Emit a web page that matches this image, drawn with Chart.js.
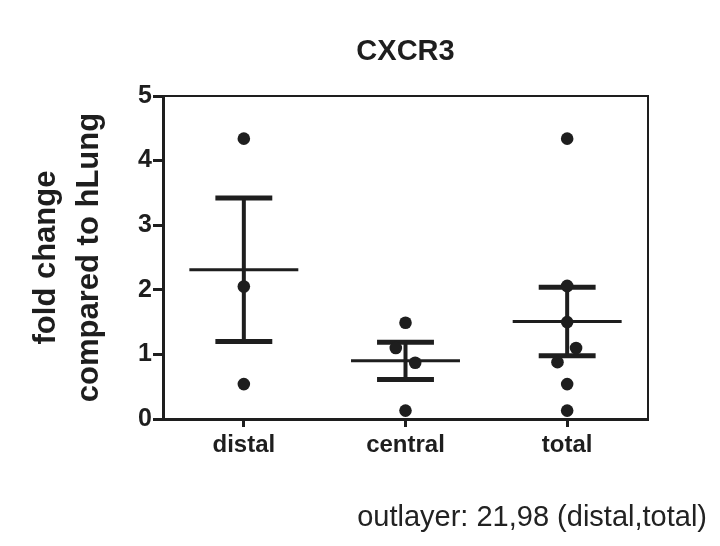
<!DOCTYPE html>
<html>
<head>
<meta charset="utf-8">
<script src="https://cdn.jsdelivr.net/npm/chart.js@4"></script>
<style>
  html, body { margin: 0; padding: 0; background: #fff; }
  #wrap { width: 720px; height: 546px; }
</style>
</head>
<body>
<div id="wrap"><canvas id="myChart" width="720" height="546"></canvas></div>
<script>
// categories and values
const categories = ['distal', 'central', 'total'];
const distalValues = [4.34, 2.05, 0.54];
const centralValues = [1.49, 1.10, 0.87, 0.13];
const totalValues = [4.34, 2.06, 1.50, 1.10, 0.88, 0.54, 0.13];
// small horizontal scatter of overlapping points (category units)
const distalJitter = [0, 0, 0];
const centralJitter = [0, -0.06, 0.06, 0];
const totalJitter = [0, 0, 0, 0.055, -0.06, 0, 0];
// mean and SEM bars
const means = [2.31, 0.90, 1.51];
const semUpper = [3.42, 1.19, 2.04];
const semLower = [1.20, 0.61, 0.98];
const yTicks = [0, 1, 2, 3, 4, 5];

const titleText = 'CXCR3';
const yTitle = ['fold change', 'compared to hLung'];
const footText = 'outlayer: 21,98 (distal,total)';

const ink = '#1e1e1e';
const fontFam = "'Liberation Sans', Arial, Helvetica, sans-serif";

function toPoints(vals, jit, idx) {
  return vals.map((v, i) => ({ x: idx + jit[i], y: v }));
}

// mean line + SEM whiskers, drawn through the chart scales
const errorBars = {
  id: 'errorBars',
  beforeDatasetsDraw(chart) {
    const { ctx, scales: { x, y } } = chart;
    ctx.save();
    ctx.strokeStyle = ink;
    ctx.lineCap = 'butt';
    categories.forEach((c, i) => {
      const cx = x.getPixelForValue(i);
      // vertical
      ctx.lineWidth = 4;
      ctx.beginPath();
      ctx.moveTo(cx, y.getPixelForValue(semUpper[i]));
      ctx.lineTo(cx, y.getPixelForValue(semLower[i]));
      ctx.stroke();
      // caps
      ctx.lineWidth = 5;
      [semUpper[i], semLower[i]].forEach(v => {
        ctx.beginPath();
        ctx.moveTo(x.getPixelForValue(i - 0.176), y.getPixelForValue(v));
        ctx.lineTo(x.getPixelForValue(i + 0.176), y.getPixelForValue(v));
        ctx.stroke();
      });
      // mean
      ctx.lineWidth = 3;
      ctx.beginPath();
      ctx.moveTo(x.getPixelForValue(i - 0.337), y.getPixelForValue(means[i]));
      ctx.lineTo(x.getPixelForValue(i + 0.337), y.getPixelForValue(means[i]));
      ctx.stroke();
    });
    ctx.restore();
  }
};

// box top/right edge, title and footnote
const frame = {
  id: 'frame',
  afterDraw(chart) {
    const { ctx, chartArea: a } = chart;
    ctx.save();
    ctx.strokeStyle = ink;
    ctx.lineWidth = 2;
    ctx.beginPath();
    ctx.moveTo(a.left, a.top);
    ctx.lineTo(a.right, a.top);
    ctx.lineTo(a.right, a.bottom);
    ctx.stroke();

    ctx.fillStyle = ink;
    ctx.textAlign = 'center';
    ctx.textBaseline = 'alphabetic';
    ctx.font = 'bold 29px ' + fontFam;
    ctx.fillText(titleText, (a.left + a.right) / 2, 60);

    ctx.textAlign = 'right';
    ctx.font = '29px ' + fontFam;
    ctx.fillStyle = '#222';
    ctx.fillText(footText, 707, 526);
    ctx.restore();
  }
};

const ctx = document.getElementById('myChart').getContext('2d');
new Chart(ctx, {
  type: 'scatter',
  data: {
    datasets: [
      { label: categories[0], data: toPoints(distalValues, distalJitter, 0) },
      { label: categories[1], data: toPoints(centralValues, centralJitter, 1) },
      { label: categories[2], data: toPoints(totalValues, totalJitter, 2) }
    ].map(d => Object.assign(d, {
      pointRadius: 6.3,
      pointHoverRadius: 6.3,
      pointBackgroundColor: ink,
      pointBorderColor: ink,
      pointBorderWidth: 0
    }))
  },
  options: {
    responsive: false,
    animation: false,
    layout: { padding: { top: 96, right: 72, left: 0, bottom: 0 } },
    plugins: {
      legend: { display: false },
      tooltip: { enabled: false },
      title: { display: false }
    },
    scales: {
      x: {
        type: 'linear',
        min: -0.5,
        max: 2.5,
        afterBuildTicks: s => { s.ticks = categories.map((c, i) => ({ value: i })); },
        afterFit: s => { s.height = 127; },
        ticks: {
          callback: v => categories[v],
          color: ink,
          padding: 4,
          maxRotation: 0,
          font: { family: fontFam, size: 24, weight: 'bold' }
        },
        grid: { drawOnChartArea: false, drawTicks: true, tickLength: 8, tickWidth: 3, color: ink },
        border: { display: true, width: 3, color: ink }
      },
      y: {
        min: 0,
        max: 5,
        afterBuildTicks: s => { s.ticks = yTicks.map(v => ({ value: v })); },
        afterFit: s => { s.width = 163; },
        ticks: {
          color: ink,
          padding: 1,
          font: { family: fontFam, size: 25, weight: 'bold' }
        },
        grid: { drawOnChartArea: false, drawTicks: true, tickLength: 10, tickWidth: 3, color: ink },
        border: { display: true, width: 3, color: ink },
        title: {
          display: true,
          text: yTitle,
          color: ink,
          padding: { top: 25, bottom: 0 },
          font: { family: fontFam, size: 31, weight: 'bold', lineHeight: 1.39 }
        }
      }
    }
  },
  plugins: [errorBars, frame]
});
</script>
</body>
</html>
